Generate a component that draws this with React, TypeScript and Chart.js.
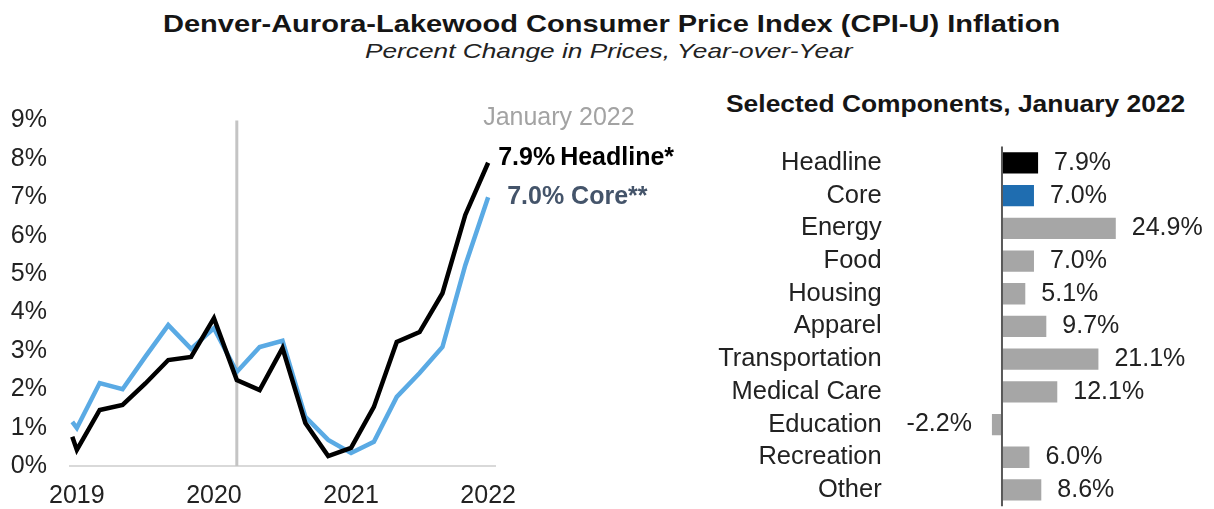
import React, { useEffect, useRef } from 'react';
import { Chart, registerables } from 'chart.js';

Chart.register(...registerables);

const FONT = "'Liberation Sans', Arial, sans-serif";

// ---- Line chart data (months since January 2019) ----
const months = [-0.4, 0, 2, 4, 6, 8, 10, 12, 14, 16, 18, 20, 22, 24, 26, 28, 30, 32, 34, 36];
const headlineSeries = [0.76, 0.42, 1.46, 1.59, 2.15, 2.76, 2.84, 3.85, 2.24, 1.98, 3.07, 1.12, 0.26, 0.47, 1.54, 3.23, 3.49, 4.5, 6.54, 7.9];
const coreSeries = [1.15, 0.99, 2.16, 2.0, 2.85, 3.67, 3.05, 3.59, 2.45, 3.1, 3.26, 1.28, 0.68, 0.34, 0.63, 1.8, 2.42, 3.1, 5.23, 7.0];
const yearTickMonths = [0, 12, 24, 36];
const yearTickLabels = ['2019', '2020', '2021', '2022'];
const markerMonth = 14;
const latestLabel = 'January 2022';

// ---- Bar chart data ----
const components = ['Headline', 'Core', 'Energy', 'Food', 'Housing', 'Apparel', 'Transportation', 'Medical Care', 'Education', 'Recreation', 'Other'];
const componentValues = [7.9, 7.0, 24.9, 7.0, 5.1, 9.7, 21.1, 12.1, -2.2, 6.0, 8.6];
const componentColors = ['#000000', '#1f6db0', '#a6a6a6', '#a6a6a6', '#a6a6a6', '#a6a6a6', '#a6a6a6', '#a6a6a6', '#a6a6a6', '#a6a6a6', '#a6a6a6'];

function LineChart() {
  const ref = useRef<HTMLCanvasElement>(null);
  useEffect(() => {
    if (!ref.current) return;
    const marker = {
      id: 'marker',
      beforeDatasetsDraw(chart: any) {
        const { ctx, chartArea, scales } = chart;
        const x = scales.x.getPixelForValue(markerMonth);
        ctx.save();
        ctx.strokeStyle = '#c4c4c4';
        ctx.lineWidth = 3;
        ctx.beginPath();
        ctx.moveTo(x, chartArea.top);
        ctx.lineTo(x, chartArea.bottom);
        ctx.stroke();
        ctx.restore();
      },
      afterDatasetsDraw(chart: any) {
        const { ctx, chartArea, scales } = chart;
        const n = months.length - 1;
        const xEnd = scales.x.getPixelForValue(months[n]);
        const yH = scales.y.getPixelForValue(headlineSeries[n]);
        const yC = scales.y.getPixelForValue(coreSeries[n]);
        ctx.save();
        ctx.textBaseline = 'middle';
        ctx.textAlign = 'left';
        ctx.font = `25px ${FONT}`;
        ctx.fillStyle = '#a3a3a3';
        ctx.fillText(latestLabel, xEnd - 5, chartArea.top - 2);
        ctx.font = `bold 25px ${FONT}`;
        ctx.fillStyle = '#000000';
        const hv = `${headlineSeries[n].toFixed(1)}%`;
        ctx.fillText(hv, xEnd + 10, yH - 5);
        const w = ctx.measureText(hv).width;
        ctx.fillText('Headline*', xEnd + 10 + w + 5, yH - 5);
        ctx.fillStyle = '#44546a';
        ctx.fillText(`${coreSeries[n].toFixed(1)}% Core**`, xEnd + 19, yC);
        ctx.restore();
      },
    };
    const chart = new Chart(ref.current, {
      type: 'line',
      data: {
        datasets: [
          {
            label: 'Headline',
            data: months.map((m, i) => ({ x: m, y: headlineSeries[i] })),
            borderColor: '#000000',
            borderWidth: 4.5,
            pointRadius: 0,
            tension: 0,
            fill: false,
          },
          {
            label: 'Core',
            data: months.map((m, i) => ({ x: m, y: coreSeries[i] })),
            borderColor: '#5aaae4',
            borderWidth: 4.5,
            pointRadius: 0,
            tension: 0,
            fill: false,
          },
        ],
      },
      options: {
        animation: false,
        responsive: true,
        maintainAspectRatio: false,
        layout: { padding: { top: 25.5, right: 205, bottom: 0, left: 0 } },
        plugins: { legend: { display: false }, tooltip: { enabled: false } },
        scales: {
          x: {
            type: 'linear',
            min: -0.6,
            max: 36.6,
            grid: { display: false, drawTicks: false },
            border: { display: true, color: '#d9d9d9', width: 2 },
            afterBuildTicks: (s: any) => {
              s.ticks = yearTickMonths.map((v) => ({ value: v }));
            },
            afterFit: (s: any) => {
              s.height = 43;
              s.paddingLeft = 0;
              s.paddingRight = 0;
            },
            ticks: {
              padding: 15,
              autoSkip: false,
              maxRotation: 0,
              color: '#222222',
              font: { family: FONT, size: 25 },
              callback: (v: any) => {
                const i = yearTickMonths.indexOf(Number(v));
                return i >= 0 ? yearTickLabels[i] : '';
              },
            },
          },
          y: {
            min: 0,
            max: 9,
            grid: { display: false, drawTicks: false },
            border: { display: false },
            afterFit: (s: any) => {
              s.width = 70;
              s.paddingTop = 0;
              s.paddingBottom = 0;
            },
            ticks: {
              stepSize: 1,
              padding: 23,
              color: '#222222',
              font: { family: FONT, size: 25 },
              callback: (v: any) => `${v}%`,
            },
          },
        },
      },
      plugins: [marker],
    });
    return () => chart.destroy();
  }, []);
  return (
    <div style={{ position: 'absolute', left: 0, top: 95, width: 700, height: 414 }}>
      <canvas ref={ref} />
    </div>
  );
}

function BarChart() {
  const ref = useRef<HTMLCanvasElement>(null);
  useEffect(() => {
    if (!ref.current) return;
    const labelsPlugin = {
      id: 'barLabels',
      afterDatasetsDraw(chart: any) {
        const { ctx, chartArea, scales } = chart;
        const x0 = scales.x.getPixelForValue(0);
        ctx.save();
        ctx.strokeStyle = '#595959';
        ctx.lineWidth = 2;
        ctx.beginPath();
        ctx.moveTo(x0, chartArea.top);
        ctx.lineTo(x0, chartArea.bottom);
        ctx.stroke();
        const meta = chart.getDatasetMeta(0);
        ctx.font = `25px ${FONT}`;
        ctx.fillStyle = '#222222';
        ctx.textBaseline = 'middle';
        meta.data.forEach((el: any, i: number) => {
          const v = componentValues[i];
          const t = `${v.toFixed(1)}%`;
          if (v >= 0) {
            ctx.textAlign = 'left';
            ctx.fillText(t, el.x + 16, el.y);
          } else {
            ctx.textAlign = 'right';
            ctx.fillText(t, el.x - 20, el.y);
          }
        });
        ctx.restore();
      },
    };
    const chart = new Chart(ref.current, {
      type: 'bar',
      data: {
        labels: components,
        datasets: [
          {
            data: componentValues,
            backgroundColor: componentColors,
            barPercentage: 0.65,
            categoryPercentage: 1,
          },
        ],
      },
      options: {
        indexAxis: 'y',
        animation: false,
        responsive: true,
        maintainAspectRatio: false,
        layout: { padding: { top: 16.6, bottom: 2.7, right: 29.2, left: 0 } },
        plugins: { legend: { display: false }, tooltip: { enabled: false } },
        scales: {
          x: { display: false, min: -4, max: 40 },
          y: {
            grid: { display: false, drawTicks: false },
            border: { display: false },
            afterFit: (s: any) => {
              s.width = 283.7;
              s.paddingTop = 0;
              s.paddingBottom = 0;
            },
            ticks: {
              padding: 102,
              autoSkip: false,
              color: '#222222',
              font: { family: FONT, size: 25.5 },
            },
          },
        },
      },
      plugins: [labelsPlugin],
    });
    return () => chart.destroy();
  }, []);
  return (
    <div style={{ position: 'absolute', left: 700, top: 130, width: 514, height: 379 }}>
      <canvas ref={ref} />
    </div>
  );
}

export default function App() {
  return (
    <div
      style={{
        position: 'absolute',
        left: 0,
        top: 0,
        width: 1214,
        height: 509,
        overflow: 'hidden',
        background: '#ffffff',
        fontFamily: FONT,
      }}
    >
      <div
        style={{
          position: 'absolute',
          left: 163,
          top: 11.5,
          font: `bold 24px ${FONT}`,
          lineHeight: '24px',
          whiteSpace: 'nowrap',
          color: '#151515',
          transform: 'scaleX(1.21)',
          transformOrigin: 'left top',
        }}
      >
        Denver-Aurora-Lakewood Consumer Price Index (CPI-U) Inflation
      </div>
      <div
        style={{
          position: 'absolute',
          left: 365,
          top: 40,
          font: `italic 21px ${FONT}`,
          lineHeight: '21px',
          whiteSpace: 'nowrap',
          color: '#222222',
          transform: 'scaleX(1.25)',
          transformOrigin: 'left top',
        }}
      >
        Percent Change in Prices, Year-over-Year
      </div>
      <div
        style={{
          position: 'absolute',
          left: 726,
          top: 91.5,
          font: `bold 24px ${FONT}`,
          lineHeight: '24px',
          whiteSpace: 'nowrap',
          color: '#151515',
          transform: 'scaleX(1.10)',
          transformOrigin: 'left top',
        }}
      >
        Selected Components, January 2022
      </div>
      <LineChart />
      <BarChart />
    </div>
  );
}
